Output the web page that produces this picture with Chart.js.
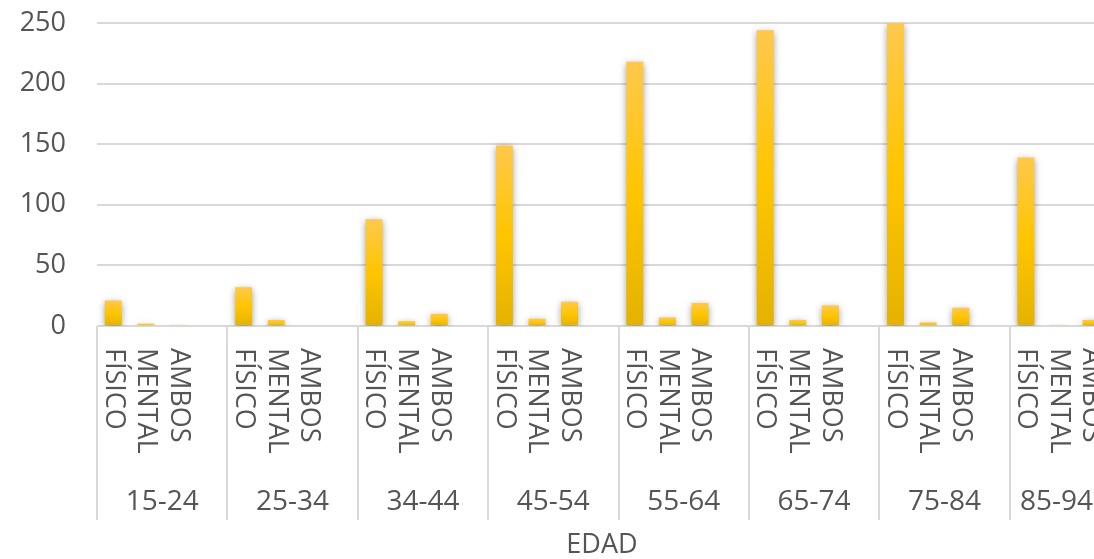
<!DOCTYPE html>
<html>
<head>
<meta charset="utf-8">
<script src="https://cdn.jsdelivr.net/npm/chart.js@4.4.1/dist/chart.umd.min.js"></script>
<style>
  html, body { margin: 0; padding: 0; background: #ffffff; overflow: hidden; }
  #wrap { width: 1204px; height: 559px; }
</style>
</head>
<body>
<div id="wrap"><canvas id="c" width="1204" height="559"></canvas></div>
<script>
// Age groups and the three kinds of case counted in each
const groups = ['15-24', '25-34', '34-44', '45-54', '55-64', '65-74', '75-84', '85-94'];
const kinds = ['FÍSICO', 'MENTAL', 'AMBOS'];

// Counts per age group
const fisico = [21, 32, 88, 149, 218, 244, 250, 139];
const mental = [2, 5, 4, 6, 7, 5, 3, 1];
const ambos  = [1, 0, 10, 20, 19, 17, 15, 5];

// Y axis ticks
const yTicks = [0, 50, 100, 150, 200, 250];

const axisTitle = 'EDAD';
const FONT = '"Open Sans", "DejaVu Sans", sans-serif';
const TEXT = '#555555';
const LINE = '#d9d9d9';

// Each group gets its three kinds plus an empty slot
const labels = [];
const values = [];
groups.forEach((g, gi) => {
  labels.push(kinds[0], kinds[1], kinds[2], '');
  values.push(fisico[gi], mental[gi], ambos[gi], null);
});
const SLOTS = 4;

function barGradient(ctx) {
  const chart = ctx.chart;
  const area = chart.chartArea;
  const y = chart.scales.y;
  if (!area || !y || ctx.raw == null) return '#ffc000';
  const top = y.getPixelForValue(ctx.raw);
  const base = y.getPixelForValue(0);
  if (!(base - top > 0.5)) return '#ffc000';
  const g = chart.ctx.createLinearGradient(0, top, 0, base);
  g.addColorStop(0, '#ffc84c');
  g.addColorStop(0.5, '#ffc500');
  g.addColorStop(1, '#e4b200');
  return g;
}

// Soft shadow behind the bars
const barShadow = {
  id: 'barShadow',
  beforeDatasetsDraw(chart) {
    const c = chart.ctx;
    c.save();
    c.shadowColor = 'rgba(0,0,0,0.38)';
    c.shadowBlur = 7;
    c.shadowOffsetX = 0;
    c.shadowOffsetY = 2;
  },
  afterDatasetsDraw(chart) {
    chart.ctx.restore();
  }
};

// Two-level category axis: rotated kind labels, group separators, group names, title
const groupedAxis = {
  id: 'groupedAxis',
  afterDraw(chart) {
    const c = chart.ctx;
    const x = chart.scales.x;
    const area = chart.chartArea;
    const slotW = x.getPixelForValue(1) - x.getPixelForValue(0);
    const bottom = area.bottom;
    const visibleRight = Math.min(window.innerWidth || chart.width, chart.width);
    c.save();

    // separators between groups
    c.strokeStyle = LINE;
    c.lineWidth = 2;
    for (let gi = 0; gi <= groups.length; gi++) {
      const px = Math.round(x.getPixelForValue(gi * SLOTS) - slotW / 2);
      c.beginPath();
      c.moveTo(px, bottom);
      c.lineTo(px, bottom + 194);
      c.stroke();
    }

    // kind labels, reading top to bottom
    c.fillStyle = TEXT;
    c.font = '27px ' + FONT;
    c.textAlign = 'left';
    c.textBaseline = 'middle';
    labels.forEach((lab, i) => {
      if (!lab) return;
      const px = x.getPixelForValue(i);
      c.save();
      c.translate(px, bottom + 22);
      c.rotate(Math.PI / 2);
      c.fillText(lab, 0, 0);
      c.restore();
    });

    // group names, kept inside the visible width
    c.font = '28px ' + FONT;
    c.textAlign = 'center';
    groups.forEach((g, gi) => {
      const l = x.getPixelForValue(gi * SLOTS) - slotW / 2;
      const r = x.getPixelForValue(gi * SLOTS + SLOTS - 1) + slotW / 2;
      const w = c.measureText(g).width;
      let cx = (l + r) / 2;
      if (cx + w / 2 > visibleRight - 1) cx = Math.max(l + w / 2 + 8, visibleRight - 1 - w / 2);
      c.fillText(g, cx, bottom + 176);
    });

    // axis title
    c.font = '27px ' + FONT;
    c.fillText(axisTitle, chart.width / 2, bottom + 219);
    c.restore();
  }
};

new Chart(document.getElementById('c'), {
  type: 'bar',
  data: {
    labels: labels,
    datasets: [{
      data: values,
      backgroundColor: barGradient,
      borderWidth: 0,
      barPercentage: 0.52,
      categoryPercentage: 1.0
    }]
  },
  options: {
    responsive: false,
    animation: false,
    devicePixelRatio: 1,
    layout: { padding: { top: 0, bottom: 233, left: 0, right: 64 } },
    plugins: {
      legend: { display: false },
      tooltip: { enabled: false }
    },
    scales: {
      x: {
        display: false,
        offset: true
      },
      y: {
        min: 0,
        max: 250,
        afterBuildTicks(scale) {
          scale.ticks = yTicks.map(v => ({ value: v }));
        },
        afterFit(scale) {
          scale.width = 97;
          scale.paddingTop = 23;
          scale.paddingBottom = 0;
        },
        border: { display: false },
        grid: { color: LINE, lineWidth: 2, drawTicks: false },
        ticks: {
          color: TEXT,
          padding: 31,
          font: { family: FONT, size: 27 }
        }
      }
    }
  },
  plugins: [barShadow, groupedAxis]
});
</script>
</body>
</html>
